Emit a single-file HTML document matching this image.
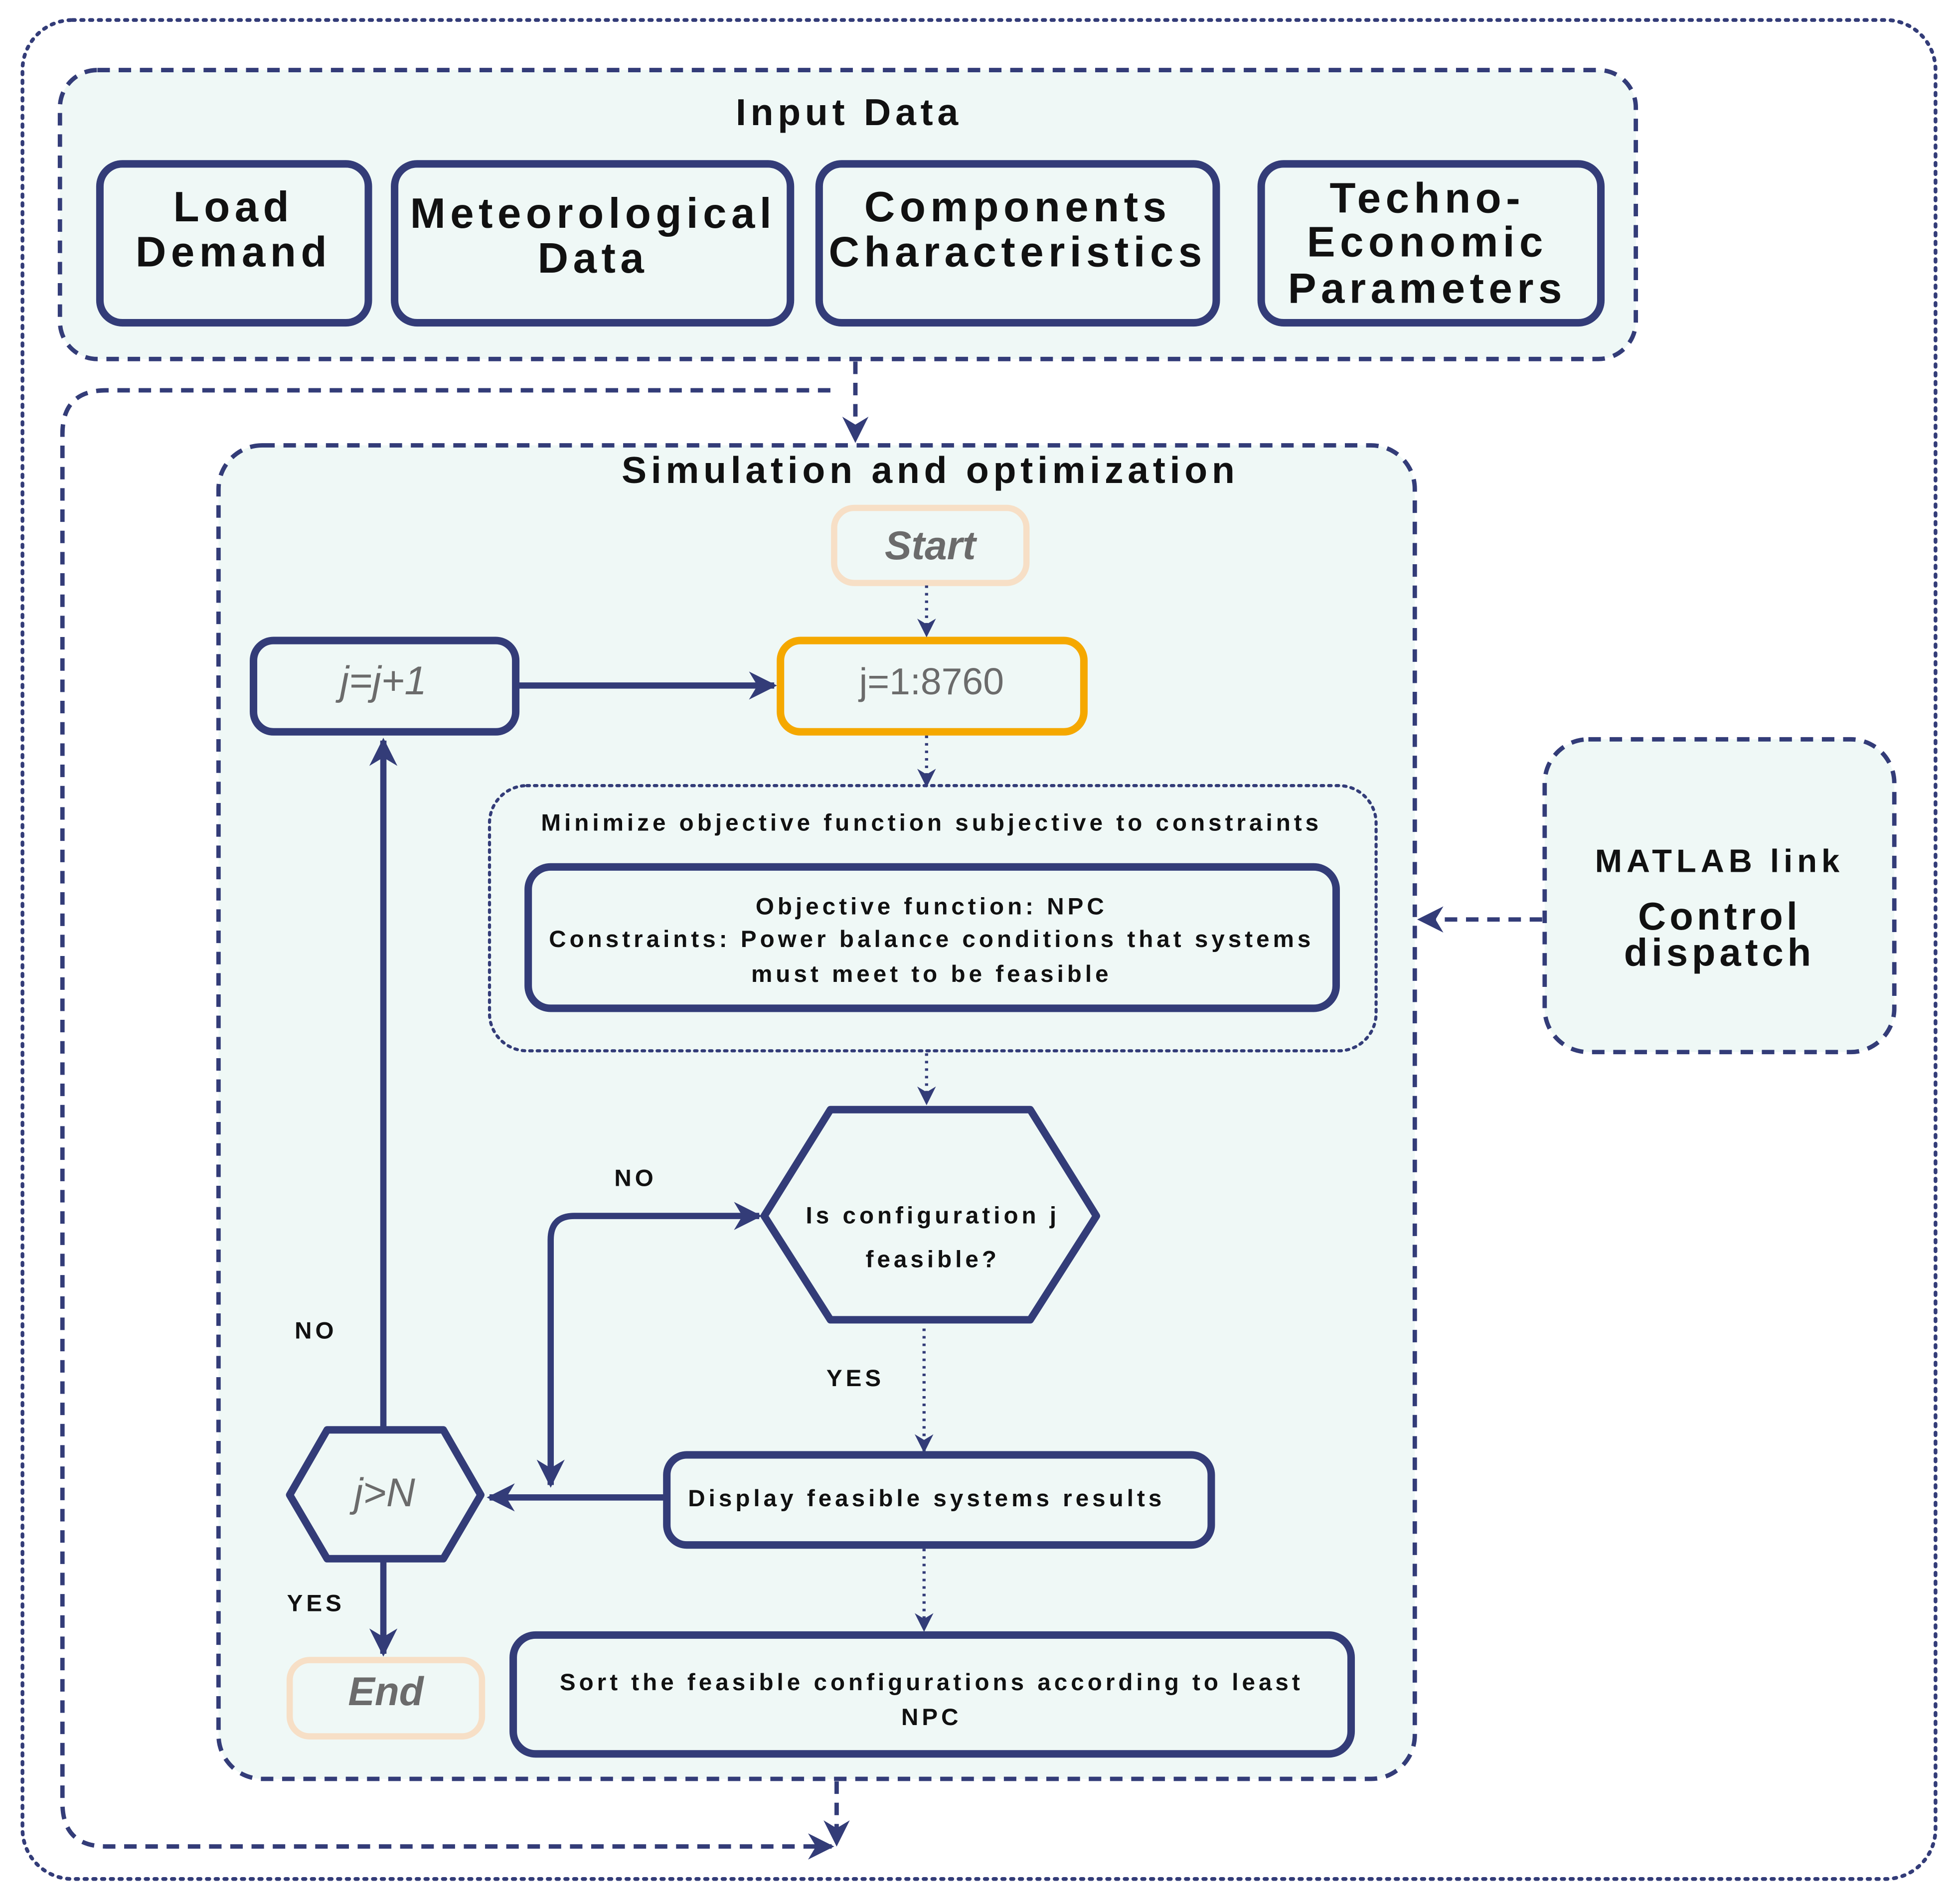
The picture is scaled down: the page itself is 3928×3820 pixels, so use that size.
<!DOCTYPE html>
<html><head><meta charset="utf-8"><style>
html,body{margin:0;padding:0;background:#fff;}
svg{display:block;}
text{font-family:"Liberation Sans",Arial,sans-serif;}
</style></head><body>
<svg width="3928" height="3820" viewBox="0 0 1568 1522" preserveAspectRatio="none" xmlns="http://www.w3.org/2000/svg">
<defs>
<marker id="a" viewBox="0 0 10 10" refX="9" refY="5" markerWidth="4.5" markerHeight="4.5" orient="auto" markerUnits="strokeWidth"><path d="M0,0 L10,5 L0,10 L3,5 z" fill="#333c78"/></marker>
<marker id="s" viewBox="0 0 10 10" refX="9" refY="5" markerWidth="6" markerHeight="6" orient="auto" markerUnits="strokeWidth"><path d="M0,0 L10,5 L0,10 L3,5 z" fill="#333c78"/></marker>
</defs>
<g fill="none" stroke="#333c78">
<rect x="18" y="16" width="1532" height="1486" rx="40" stroke-width="3" stroke-dasharray="2,5" stroke-linecap="round"/>
<rect x="48" y="56" width="1262" height="231" rx="30" fill="#eff8f6" stroke-width="3.5" stroke-dasharray="10,7"/>
<path d="M665,312 H85 Q50,312 50,347 V1441 Q50,1476 85,1476 H666" stroke-width="3.5" stroke-dasharray="10,7" marker-end="url(#s)"/>
<path d="M685,289 V352" stroke-width="3.5" stroke-dasharray="10,7" marker-end="url(#s)"/>
<rect x="175" y="356" width="958" height="1066" rx="35" fill="#eff8f6" stroke-width="3.5" stroke-dasharray="10,7"/>
<path d="M670,1424 V1474" stroke-width="3.5" stroke-dasharray="10,7" marker-end="url(#s)"/>
<rect x="1237" y="591" width="280" height="250" rx="35" fill="#eff8f6" stroke-width="3.5" stroke-dasharray="10,7"/>
<path d="M1235,735 H1137" stroke-width="3.5" stroke-dasharray="10,7" marker-end="url(#s)"/>
<g stroke-width="6" fill="#eff8f6">
<rect x="80" y="131" width="215" height="127" rx="18"/>
<rect x="316" y="131" width="317" height="127" rx="18"/>
<rect x="656" y="131" width="318" height="127" rx="18"/>
<rect x="1010" y="131" width="272" height="127" rx="18"/>
<rect x="203" y="512" width="210" height="73" rx="16"/>
<rect x="423" y="693" width="647" height="113" rx="18"/>
<rect x="534" y="1163" width="436" height="72" rx="16"/>
<rect x="411" y="1307" width="671" height="95" rx="18"/>
<polygon points="612,972 665,887 825,887 878,972 825,1055 665,1055" stroke-linejoin="round"/>
<polygon points="232,1195 262,1143 355,1143 385,1195 355,1246 262,1246" stroke-linejoin="round"/>
</g>
<rect x="625" y="512" width="243" height="73" rx="16" stroke="#f5a800" stroke-width="6" fill="#eff8f6"/>
<rect x="668" y="406" width="154" height="60" rx="16" stroke="#f7dfc6" stroke-width="5" fill="#eff8f6"/>
<rect x="232" y="1327" width="154" height="61" rx="16" stroke="#f7dfc6" stroke-width="5" fill="#eff8f6"/>
<rect x="392" y="628" width="710" height="212" rx="30" stroke-width="2.5" stroke-dasharray="2,4" stroke-linecap="round"/>
<g stroke-width="2.5" stroke-dasharray="2,4">
<path d="M742,468 V508" marker-end="url(#s)"/>
<path d="M742,588 V628" marker-end="url(#s)"/>
<path d="M742,842 V882" marker-end="url(#s)"/>
<path d="M740,1062 V1160" marker-end="url(#s)"/>
<path d="M740,1238 V1303" marker-end="url(#s)"/>
</g>
<g stroke-width="5">
<path d="M413,548 H620" marker-end="url(#a)"/>
<path d="M441,1187 V991 Q441,972 460,972 H608" marker-end="url(#a)"/>
<path d="M441,1100 V1187" marker-end="url(#a)"/>
<path d="M534,1197 H392" marker-end="url(#a)"/>
<path d="M307,1143 V592" marker-end="url(#a)"/>
<path d="M307,1246 V1322" marker-end="url(#a)"/>
</g>
</g>
<g fill="#111" font-weight="bold" text-anchor="middle">
<text x="680" y="100" font-size="30" letter-spacing="3.5">Input Data</text>
<g font-size="34" letter-spacing="3.8">
<text x="187" y="177">Load</text><text x="187" y="213">Demand</text>
<text x="475" y="182">Meteorological</text><text x="475" y="218">Data</text>
<text x="815" y="177">Components</text><text x="815" y="213">Characteristics</text>
<text x="1143" y="170">Techno-</text><text x="1143" y="205">Economic</text><text x="1143" y="242">Parameters</text>
</g>
<text x="745" y="386" font-size="30" letter-spacing="3.5">Simulation and optimization</text>
<g font-size="19" letter-spacing="2.8">
<text x="746" y="664">Minimize objective function subjective to constraints</text>
<text x="746" y="731">Objective function: NPC</text>
<text x="746" y="757">Constraints: Power balance conditions that systems</text>
<text x="746" y="785">must meet to be feasible</text>
<text x="747" y="978">Is configuration j</text>
<text x="747" y="1013">feasible?</text>
<text x="742" y="1204">Display feasible systems results</text>
<text x="746" y="1351">Sort the feasible configurations according to least</text>
<text x="746" y="1379">NPC</text>
<text x="509" y="948">NO</text>
<text x="685" y="1108">YES</text>
<text x="253" y="1070">NO</text>
<text x="253" y="1288">YES</text>
</g>
<text x="1377" y="697" font-size="26" letter-spacing="3.6">MATLAB link</text>
<text x="1377" y="743" font-size="31" letter-spacing="2.9">Control</text>
<text x="1377" y="772" font-size="31" letter-spacing="3.2">dispatch</text>
</g>
<g fill="#6b6b6b" text-anchor="middle" font-size="32">
<text x="745" y="447" font-style="italic" font-weight="bold">Start</text>
<text x="309" y="1363" font-style="italic" font-weight="bold">End</text>
<text x="746" y="555" font-size="30">j=1:8760</text>
<text x="307" y="555" font-style="italic">j=j+1</text>
<text x="308" y="1204" font-style="italic">j&gt;N</text>
</g>
</svg>
</body></html>
